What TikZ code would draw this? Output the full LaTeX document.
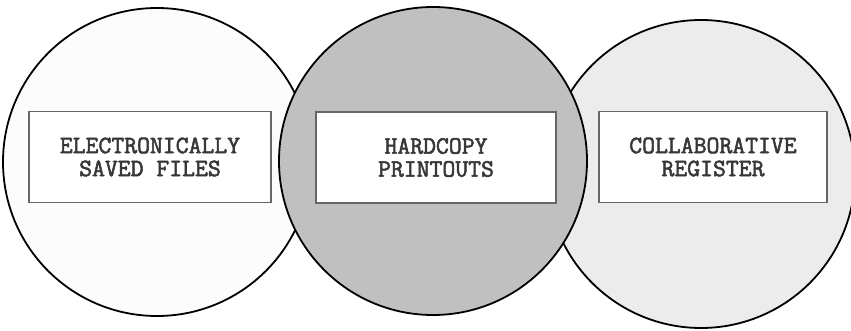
\documentclass[tikz,border=0pt]{standalone}
\usepackage{fontspec}
\setmonofont{Latin Modern Mono}[AutoFakeBold=2.2]
\usepackage{tikz}
\usetikzlibrary{positioning}

\definecolor{midgrey}{RGB}{192,192,192}
\definecolor{palegrey}{RGB}{236,236,236}
\definecolor{offwhite}{RGB}{252,252,252}

\tikzset{
  store/.style={circle, draw=black, line width=0.9pt, minimum size=154pt, inner sep=0pt},
  tag/.style={rectangle, draw=black!60, line width=0.6pt, fill=white, minimum height=45.5pt,
    align=center, text=black!78, font=\ttfamily\bfseries\fontsize{12.5}{11.5}\selectfont}
}

\begin{document}
\begin{tikzpicture}[x=0.5pt, y=-0.5pt]
    \useasboundingbox (0,0) rectangle (851,331);

    % outer storage circles, middle one on top
    \node[store, fill=offwhite] (efiles) at (157,162) {};
    \node[store, fill=palegrey] (creg) at (701,174) {};
    \node[store, fill=midgrey] (hcopy) at (433,161) {};

    % labels
    \node[tag, minimum width=121pt] (efilestag) at (150,157) {ELECTRONICALLY\\SAVED FILES};
    \node[tag, minimum width=120pt] (hcopytag) at (436,157.5) {HARDCOPY\\PRINTOUTS};
    \node[tag, minimum width=114pt] (cregtag) at (713,157) {COLLABORATIVE\\REGISTER};
\end{tikzpicture}
\end{document}
